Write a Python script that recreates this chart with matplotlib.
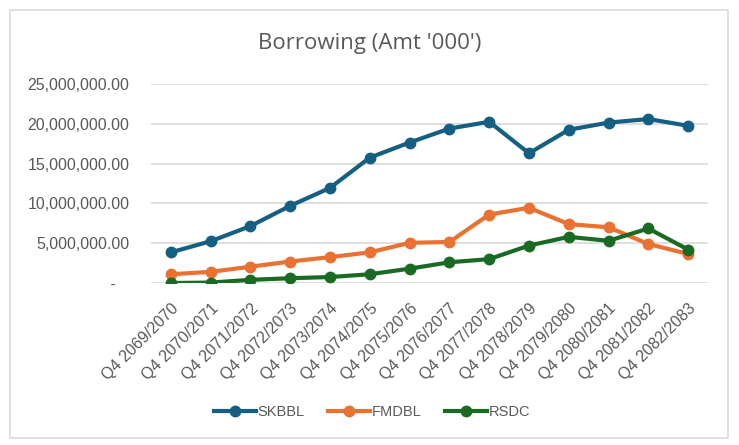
import matplotlib.pyplot as plt
from matplotlib.patches import Rectangle
from matplotlib.ticker import FuncFormatter

plt.rcParams['font.family'] = ['Liberation Sans', 'DejaVu Sans']

# data (amounts in '000)
quarters = ['Q4 2069/2070', 'Q4 2070/2071', 'Q4 2071/2072', 'Q4 2072/2073',
            'Q4 2073/2074', 'Q4 2074/2075', 'Q4 2075/2076', 'Q4 2076/2077',
            'Q4 2077/2078', 'Q4 2078/2079', 'Q4 2079/2080', 'Q4 2080/2081',
            'Q4 2081/2082', 'Q4 2082/2083']
skbbl = [3850000, 5250000, 7150000, 9700000, 11950000, 15750000, 17650000,
         19400000, 20250000, 16300000, 19250000, 20150000, 20600000, 19750000]
fmdbl = [1100000, 1400000, 2050000, 2700000, 3250000, 3850000, 5050000,
         5150000, 8600000, 9450000, 7400000, 7000000, 4900000, 3650000]
rsdc = [0, 50000, 400000, 600000, 750000, 1100000, 1800000,
        2600000, 3000000, 4700000, 5800000, 5300000, 6850000, 4200000]

grey = '#595959'
fig = plt.figure(figsize=(7.39, 4.45), dpi=100)
# chart border
fig.patches.append(Rectangle((10 / 739, 7 / 445), 718 / 739, 428 / 445,
                             transform=fig.transFigure, fill=False,
                             edgecolor='#d9d9d9', linewidth=1.2))

ax = fig.add_axes([151 / 739, 162 / 445, 557 / 739, 199 / 445])
x = range(len(quarters))
ax.plot(x, skbbl, color='#156082', lw=3, marker='o', ms=7.5, label='SKBBL', zorder=3)
ax.plot(x, fmdbl, color='#E97132', lw=3, marker='o', ms=7.5, label='FMDBL', zorder=3)
ax.plot(x, rsdc, color='#196B24', lw=3, marker='o', ms=7.5, label='RSDC', zorder=4)

ax.set_xlim(-0.5, len(quarters) - 0.5)
ax.set_ylim(0, 25000000)
ax.set_yticks(range(0, 25000001, 5000000))
ax.yaxis.set_major_formatter(FuncFormatter(lambda v, p: ' -   ' if v == 0 else f'{v:,.2f}'))
ax.set_xticks(list(x))
ax.set_xticklabels(quarters, rotation=45, ha='right', va='top', rotation_mode='anchor')
ax.grid(axis='y', color='#d9d9d9', lw=1.2)
ax.set_axisbelow(True)
for s in ax.spines.values():
    s.set_visible(False)
ax.tick_params(length=0, colors=grey)
ax.tick_params(axis='y', pad=15.5, labelsize=11.5)
ax.tick_params(axis='x', pad=13, labelsize=11.5)

fig.text(370 / 739, 1 - 43 / 445, "Borrowing (Amt '000')", ha='center', va='center',
         fontsize=16, color=grey, family=['Open Sans', 'DejaVu Sans'])

leg = fig.legend(loc='center', bbox_to_anchor=(372 / 739, 1 - 412 / 445), ncol=3,
                 frameon=False, fontsize=10.5, handlelength=2.9, columnspacing=1.6,
                 handletextpad=0.1)
for t in leg.get_texts():
    t.set_color(grey)

fig.savefig('out.png', dpi=100)
